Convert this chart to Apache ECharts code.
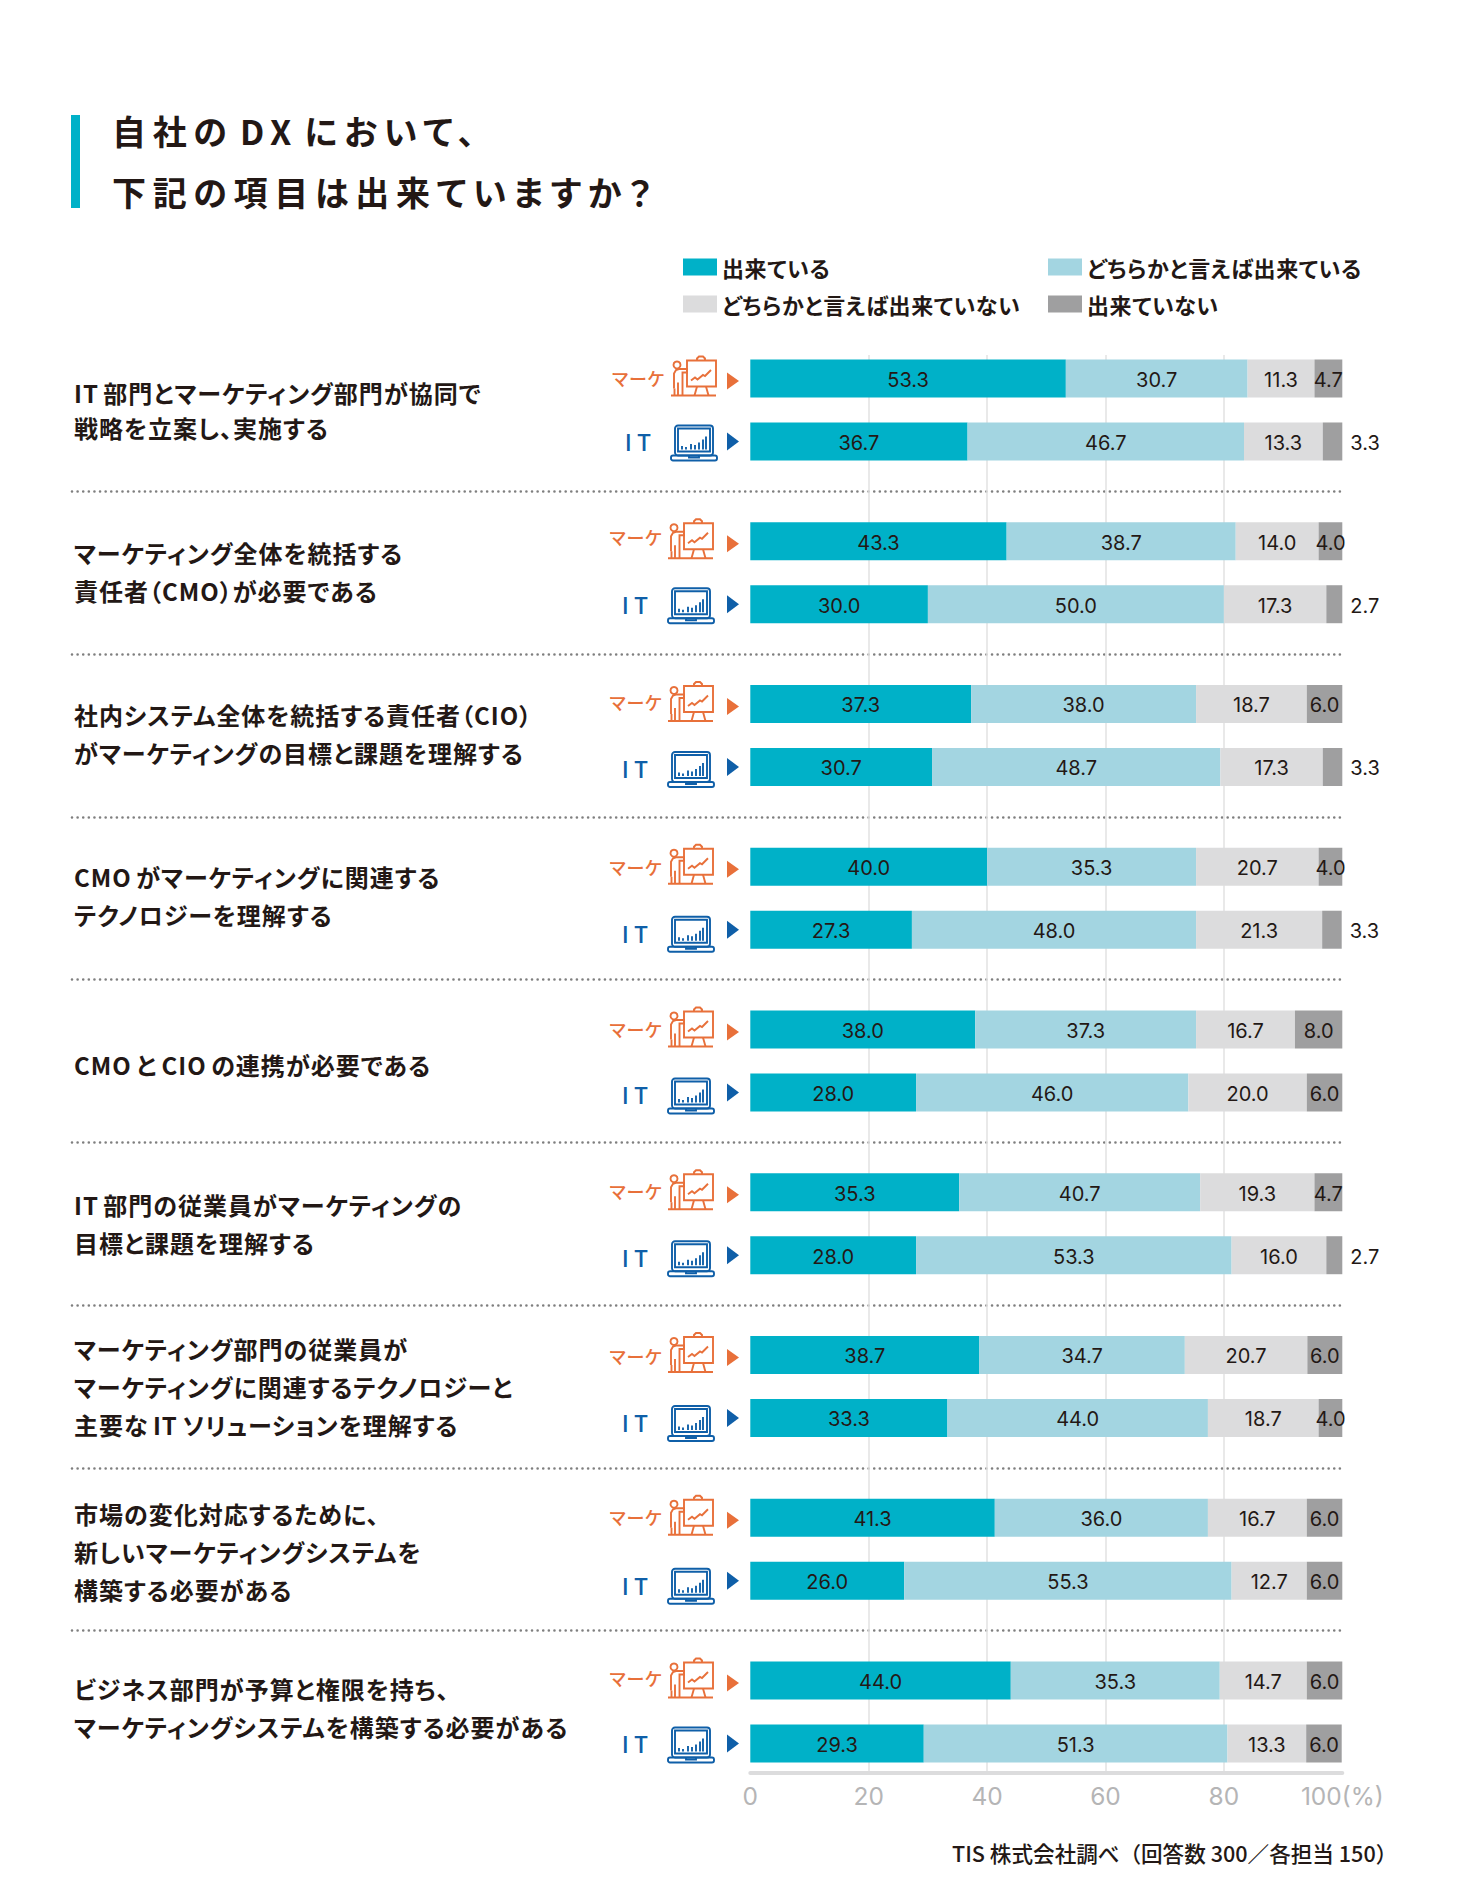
<!DOCTYPE html>
<html><head><meta charset="utf-8">
<style>
html,body{margin:0;padding:0;background:#fff}
#c{width:1459px;height:1893px}
svg text{font-feature-settings:"palt"}
svg text[style*="34px"]{letter-spacing:6.7px;word-spacing:-8px}
svg text[style*="24px"]{letter-spacing:1px;word-spacing:-2px}
svg text[style*="22px"]{letter-spacing:0.6px}
</style>
<script src="https://cdn.jsdelivr.net/npm/echarts@6/dist/echarts.min.js"></script>
</head><body><div id="c"></div>
<script>
const titleText = '自社の DX において、\n下記の項目は出来ていますか？';
const sourceText = 'TIS 株式会社調べ（回答数 300／各担当 150）';
const categories = [
 'IT 部門とマーケティング部門が協同で\n戦略を立案し、実施する',
 'マーケティング全体を統括する\n責任者（CMO）が必要である',
 '社内システム全体を統括する責任者（CIO）\nがマーケティングの目標と課題を理解する',
 'CMO がマーケティングに関連する\nテクノロジーを理解する',
 'CMO と CIO の連携が必要である',
 'IT 部門の従業員がマーケティングの\n目標と課題を理解する',
 'マーケティング部門の従業員が\nマーケティングに関連するテクノロジーと\n主要な IT ソリューションを理解する',
 '市場の変化対応するために、\n新しいマーケティングシステムを\n構築する必要がある',
 'ビジネス部門が予算と権限を持ち、\nマーケティングシステムを構築する必要がある'
];
const seriesNames = ['出来ている','どちらかと言えば出来ている','どちらかと言えば出来ていない','出来ていない'];
const mkt1 = [53.3,43.3,37.3,40.0,38.0,35.3,38.7,41.3,44.0];
const mkt2 = [30.7,38.7,38.0,35.3,37.3,40.7,34.7,36.0,35.3];
const mkt3 = [11.3,14.0,18.7,20.7,16.7,19.3,20.7,16.7,14.7];
const mkt4 = [4.7,4.0,6.0,4.0,8.0,4.7,6.0,6.0,6.0];
const it1 = [36.7,30.0,30.7,27.3,28.0,28.0,33.3,26.0,29.3];
const it2 = [46.7,50.0,48.7,48.0,46.0,53.3,44.0,55.3,51.3];
const it3 = [13.3,17.3,17.3,21.3,20.0,16.0,18.7,12.7,13.3];
const it4 = [3.3,2.7,3.3,3.3,6.0,2.7,4.0,6.0,6.0];
const xTicks = [0,20,40,60,80,100];
const colors = ['#00B1C8','#A3D5E1','#DCDCDD','#9F9FA0'];

const INK='#231815', CJK='"Noto Sans CJK JP","Noto Sans",sans-serif', NUM='Inter,"Noto Sans",sans-serif';
const ORANGE='#E8703A', BLUE='#0F5FA8';
const L=750.3, W=592, TOP=328.6, PITCH=162.75;

function stackSeries(name, stack, values, i){
  return {
    type:'bar', name, stack, xAxisIndex:0, yAxisIndex:0, barWidth:38, barGap:'65.8%',
    itemStyle:{color:colors[i]}, z:3, silent:true,
    label:{show:true, position:'inside', offset:[0,1.5], color:INK, fontFamily:NUM, fontSize:20,
           formatter:p=>(+p.value).toFixed(1)},
    data: values.map(v=> v<4 ? {value:v,label:{position:'right',distance:8}} : v)
  };
}
const series=[];
[mkt1,mkt2,mkt3,mkt4].forEach((a,i)=>series.push(stackSeries(seriesNames[i],'mkt',a,i)));
[it1,it2,it3,it4].forEach((a,i)=>series.push(stackSeries(seriesNames[i],'it',a,i)));

function lineStyle(c){return {fill:'none',stroke:c,lineWidth:1.9};}
function icon(parts,c){
  return parts.map(p=>{
    if(p.length===3) return {type:'circle',shape:{cx:p[0],cy:p[1],r:p[2]},style:lineStyle(c)};
    if(p[0]==='r') return {type:'rect',shape:{x:p[1],y:p[2],width:p[3],height:p[4],r:p[5]||0},style:lineStyle(c)};
    return {type:'polyline',shape:{points:p},style:lineStyle(c)};
  });
}
const PRESENTER=[[7,9.5,3.5],['r',17,5,29,26],
 [[1,40],[46,40]],[[4,33],[4,18],[6,14.5],[9,13.5],[17,13.5],[17,17],[12.5,17],[12.5,40]],[[8,40],[8,27]],[[4.5,40],[4.5,33]],
 [[27,5],[27,3],[29,1],[33,1],[35,3],[35,5]],[[27,31],[24.5,40]],[[36,31],[38.5,40]],
 [[21,25],[25,22],[27.5,24],[33,19.5],[35,20.5],[41,14.5]]];
const LAPTOP=[['r',4,0,38,30,3],['r',7,3,32,23],['r',0,30,46,5,2],[[18,30],[18,32],[28,32],[28,30]],
 [[11,24],[11,20.5]],[[15,24],[15,21.5]],[[20,24],[20,18.5]],[[24,24],[24,19.5]],[[28,24],[28,17]],[[32,24],[32,14]],[[35,24],[35,11]]];
const itShift=[0,0,1,3,2,2,4,4,0];
const mktShift=[1,-3,-1,1,1,0,2,0,-1];
const labelShift=[0,-1,-2.4,-2.4,3.6,0,0,2.4,-4.8];
const labelLine=[35,38,38,38,38,38,38,38,38];
const graphic=[{type:'rect',shape:{x:71,y:115,width:9,height:93},style:{fill:colors[0]}},
 {type:'text',x:952,y:1852,style:{text:sourceText,align:'left',verticalAlign:'middle',font:'500 21.6px '+CJK,fill:INK}}];
categories.forEach((_,i)=>{
  const cy=TOP+PITCH*(i+0.5), my=cy-31.5, iy=cy+31.5, dx=i===0?0:-3, tx=i===0?2:-0.5;
  graphic.push(
   {type:'text',x:663+tx,y:my-1+mktShift[i],style:{text:'マーケ',align:'right',verticalAlign:'middle',font:'500 18px '+CJK,fill:ORANGE}},
   {type:'group',x:671+dx-1,y:my-23,children:icon(PRESENTER,ORANGE)},
   {type:'polygon',shape:{points:[[727,my-6],[739,my+2.5],[727,my+11]]},style:{fill:ORANGE}},
   {type:'text',x:651+dx,y:iy+itShift[i],style:{text:'I T',align:'right',verticalAlign:'middle',font:'500 23px '+CJK,fill:BLUE}},
   {type:'group',x:671+dx,y:iy-16+itShift[i],children:icon(LAPTOP,BLUE)},
   {type:'polygon',shape:{points:[[727,iy-9],[739,iy],[727,iy+9]]},style:{fill:BLUE}}
  );
});
// rich label styles: a thin spacer line above or below nudges a row's text block down or up
const labelFont={fontFamily:CJK,fontSize:24,fontWeight:600,color:INK};
const rich={};
categories.forEach((_,i)=>{
  rich['n'+i]={...labelFont,lineHeight:labelLine[i]};
  rich['s'+i]={fontSize:2,lineHeight:Math.max(2*Math.abs(labelShift[i]),1)};
});
function labelFormatter(value){
  const i=categories.indexOf(value), d=labelShift[i];
  const rows=value.split('\n').map(s=>'{n'+i+'|'+s+'}');
  if(d>0) rows.unshift('{s'+i+'| }');
  if(d<0) rows.push('{s'+i+'| }');
  return rows.join('\n');
}

const legendText={fontFamily:CJK,fontSize:22,fontWeight:600,color:INK};
const chart=echarts.init(document.getElementById('c'),null,{renderer:'svg',width:1459,height:1893});
chart.setOption({
  animation:false, backgroundColor:'#fff',
  title:{text:titleText,left:107,top:95,textStyle:{fontFamily:CJK,fontSize:34,fontWeight:700,color:INK,lineHeight:61}},
  legend:[
    {data:[seriesNames[0],seriesNames[2]],left:683,top:256,orient:'vertical',itemWidth:34,itemHeight:17,itemGap:15,selectedMode:false,icon:'rect',textStyle:legendText,padding:0},
    {data:[seriesNames[1],seriesNames[3]],left:1048,top:256,orient:'vertical',itemWidth:34,itemHeight:17,itemGap:15,selectedMode:false,icon:'rect',textStyle:legendText,padding:0}
  ],
  grid:[
    {left:L,width:W,top:TOP,height:PITCH*9,outerBoundsMode:'none'},
    {left:L,width:W,top:355,height:1418,outerBoundsMode:'none'},
    {left:72,width:1271,top:TOP,height:PITCH*9,outerBoundsMode:'none'}
  ],
  xAxis:[
    {gridIndex:0,type:'value',min:0,max:100,show:false},
    {gridIndex:1,type:'value',min:0,max:100,interval:20,
     axisLine:{show:true,lineStyle:{color:'#DCDCDD',width:4}},axisTick:{show:false},
     axisLabel:{margin:10,fontFamily:NUM,fontSize:24.5,color:'#B5B5B6',showMinLabel:true,showMaxLabel:true,
       formatter:v=>v===xTicks[xTicks.length-1]?v+'(%)':''+v},
     splitLine:{show:true,showMinLine:false,showMaxLine:false,lineStyle:{color:'#E4E4E4',width:1.6}}},
    {gridIndex:2,type:'value',min:0,max:100,show:false}
  ],
  yAxis:[
    {gridIndex:0,type:'category',inverse:true,data:categories,axisLine:{show:false},axisTick:{show:false},splitLine:{show:false},
     axisLabel:{interval:0,align:'left',margin:L-74,formatter:labelFormatter,rich,...labelFont,lineHeight:38}},
    {gridIndex:1,type:'category',data:[''],show:false},
    {gridIndex:2,type:'category',data:categories,inverse:true,axisLine:{show:false},axisTick:{show:false},axisLabel:{show:false},
     splitLine:{show:true,interval:0,showMinLine:false,showMaxLine:false,lineStyle:{type:[0.01,5.6],cap:'round',color:'#7F7F7F',width:2.6}}}
  ],
  graphic:{elements:graphic},
  series
});
</script></body></html>
